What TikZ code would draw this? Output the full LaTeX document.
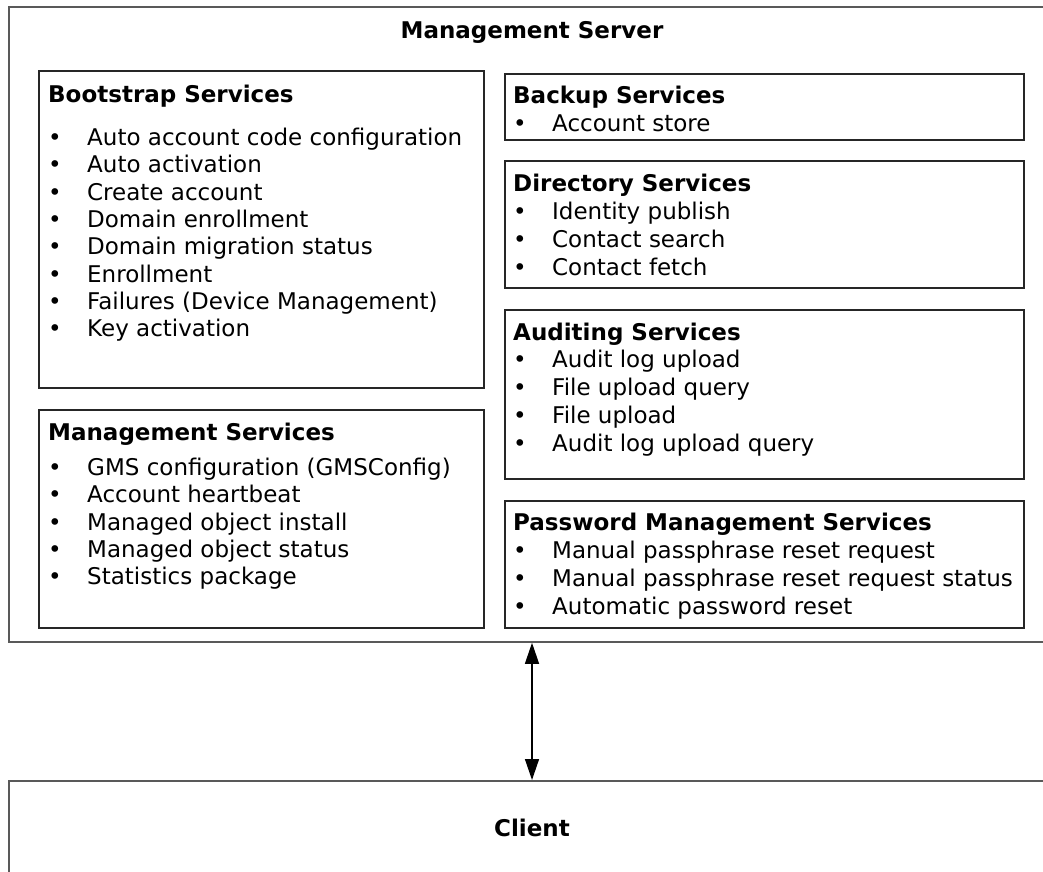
\documentclass[tikz,border=0pt]{standalone}
\usepackage{fontspec}
\setmainfont{DejaVu Sans}
\usetikzlibrary{arrows.meta}
\newcommand{\itm}[1]{\makebox[39pt][l]{•}#1}
\newcommand{\topstrut}{\rule{0pt}{18pt}}
\tikzset{
  outerbox/.style={draw=black!65, line width=1.8pt, anchor=north west, inner sep=0pt},
  svcbox/.style={draw=black!85, line width=1.6pt, anchor=north west, inner sep=0pt},
  txtL/.style={anchor=north west, align=left, inner sep=0pt, font=\fontsize{23}{27.3}\selectfont},
  txtR/.style={anchor=north west, align=left, inner sep=0pt, font=\fontsize{23}{28}\selectfont},
  ttl/.style={anchor=base, inner sep=0pt, font=\fontsize{23}{27}\selectfont\bfseries},
  link/.style={<->, line width=1.4pt, >={Triangle[length=21pt,width=14pt]}}
}
\begin{document}
\begin{tikzpicture}[x=1pt,y=-1pt]
\useasboundingbox (0,0) rectangle (1043,871);
\fill[white] (0,0) rectangle (1043,871);
% outer boxes (open to the right / bottom)
\node[outerbox, minimum width=1060pt, minimum height=635pt] (server) at (8,6) {};
\node[outerbox, minimum width=1060pt, minimum height=130pt] (client) at (8,780) {};
\node[ttl] (servertitle) at (532,38) {Management Server};
\node[ttl] (clienttitle) at (532,836) {Client};
% service boxes
\node[svcbox, minimum width=445pt, minimum height=317pt] (boot) at (38,70) {};
\node[svcbox, minimum width=445pt, minimum height=218pt] (mgmt) at (38,409) {};
\node[svcbox, minimum width=519pt, minimum height=66pt] (backup) at (504,73) {};
\node[svcbox, minimum width=519pt, minimum height=127pt] (dir) at (504,160) {};
\node[svcbox, minimum width=519pt, minimum height=169pt] (audit) at (504,309) {};
\node[svcbox, minimum width=519pt, minimum height=127pt] (pwd) at (504,500) {};
% texts (first-line baseline = y + 18)
\node[txtL] (boottxt) at (48,84) {\topstrut\textbf{Bootstrap Services}\\[16pt]
  \itm{Auto account code configuration}\\
  \itm{Auto activation}\\
  \itm{Create account}\\
  \itm{Domain enrollment}\\
  \itm{Domain migration status}\\
  \itm{Enrollment}\\
  \itm{Failures (Device Management)}\\
  \itm{Key activation}};
\node[txtL] (mgmttxt) at (48,422) {\topstrut\textbf{Management Services}\\[8pt]
  \itm{GMS configuration (GMSConfig)}\\
  \itm{Account heartbeat}\\
  \itm{Managed object install}\\
  \itm{Managed object status}\\
  \itm{Statistics package}};
\node[txtR] (backuptxt) at (513,85) {\topstrut\textbf{Backup Services}\\
  \itm{Account store}};
\node[txtR] (dirtxt) at (513,173) {\topstrut\textbf{Directory Services}\\
  \itm{Identity publish}\\
  \itm{Contact search}\\
  \itm{Contact fetch}};
\node[txtR] (audittxt) at (513,322) {\topstrut\textbf{Auditing Services}\\[-1pt]
  \itm{Audit log upload}\\
  \itm{File upload query}\\
  \itm{File upload}\\
  \itm{Audit log upload query}};
\node[txtR] (pwdtxt) at (513,512) {\topstrut\textbf{Password Management Services}\\
  \itm{Manual passphrase reset request}\\
  \itm{Manual passphrase reset request status}\\
  \itm{Automatic password reset}};
% connector
\draw[link] (server.south -| servertitle) -- (client.north -| servertitle);
\end{tikzpicture}
\end{document}
